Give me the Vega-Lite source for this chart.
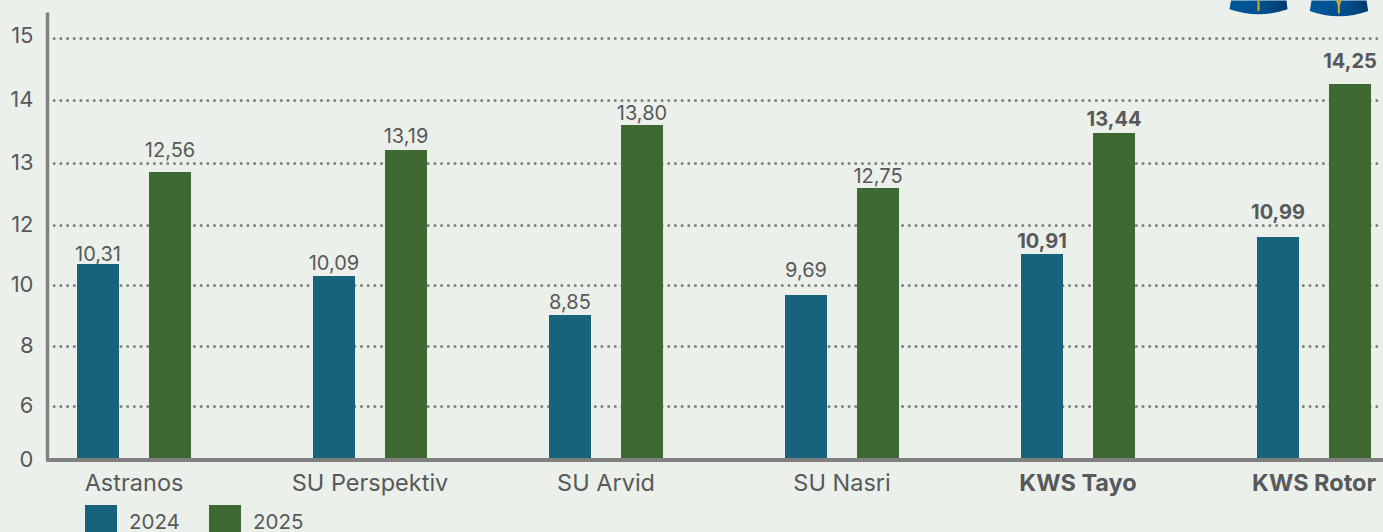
{
"$schema":"https://vega.github.io/schema/vega-lite/v6.json",
"width":1336,"height":448,
"autosize":{"type":"none"},
"padding":{"left":47,"top":12,"right":0,"bottom":72},
"background":"#ebf0ea",
"config":{"view":{"stroke":null},"font":"Inter"},
"datasets":{"bars":[
{"variety":"Astranos","year":"2024","value":"10,31","bar_top":10.7,"label_pos":11.03,"strong":false},
{"variety":"Astranos","year":"2025","value":"12,56","bar_top":12.855,"label_pos":13.2,"strong":false},
{"variety":"SU Perspektiv","year":"2024","value":"10,09","bar_top":10.3,"label_pos":10.73,"strong":false},
{"variety":"SU Perspektiv","year":"2025","value":"13,19","bar_top":13.206,"label_pos":13.43,"strong":false},
{"variety":"SU Arvid","year":"2024","value":"8,85","bar_top":9.016,"label_pos":9.44,"strong":false},
{"variety":"SU Arvid","year":"2025","value":"13,80","bar_top":13.603,"label_pos":13.79,"strong":false},
{"variety":"SU Nasri","year":"2024","value":"9,69","bar_top":9.672,"label_pos":10.5,"strong":false},
{"variety":"SU Nasri","year":"2025","value":"12,75","bar_top":12.597,"label_pos":12.79,"strong":false},
{"variety":"KWS Tayo","year":"2024","value":"10,91","bar_top":11.033,"label_pos":11.47,"strong":true},
{"variety":"KWS Tayo","year":"2025","value":"13,44","bar_top":13.476,"label_pos":13.7,"strong":true},
{"variety":"KWS Rotor","year":"2024","value":"10,99","bar_top":11.6,"label_pos":12.21,"strong":true},
{"variety":"KWS Rotor","year":"2025","value":"14,25","bar_top":14.258,"label_pos":14.63,"strong":true}
],"icon":[{"variety":"KWS Rotor","top":15.4}]},
"data":{"name":"bars"},
"encoding":{
"x":{"field":"variety","type":"nominal","sort":null,"title":null,
"scale":{"range":[0,1336],"paddingInner":0.5,"paddingOuter":0.0805,"align":0.737},
"axis":{"domain":false,"ticks":false,"grid":false,"labelAngle":0,"labelFont":"Inter","labelFontSize":23.5,"labelColor":"#58595b","labelPadding":11,"labelBound":false,"labelFlush":false,
"labelFontWeight":{"condition":{"test":"indexof(datum.label,'KWS')==0","value":"bold"},"value":"normal"}}}
},
"layer":[
{"mark":{"type":"bar","width":42},
"encoding":{
"xOffset":{"field":"year","type":"nominal","scale":{"paddingInner":0.4167,"paddingOuter":0.0278}},
"y":{"field":"bar_top","type":"quantitative","title":null,
"scale":{"domain":[0,6,8,10,12,13,14,15,15.4],"range":[448,394,334,273,213,151,88,26,0]},
"axis":{"values":[0,6,8,10,12,13,14,15],"domain":true,"domainColor":"#808080","domainWidth":3.4,"ticks":false,"grid":true,"gridColor":"#808080","gridWidth":3,"gridCap":"round","gridDash":[0.01,6.67],"labelFont":"Inter","labelFontSize":22,"labelColor":"#58595b","labelPadding":14,"labelBound":false,"labelFlush":false,
"labelOffset":{"condition":{"test":"datum.value==15","value":-3},"value":-1}}},
"color":{"field":"year","type":"nominal","scale":{"domain":["2024","2025"],"range":["#17637c","#3f6932"]},
"legend":{"title":null,"orient":"none","direction":"horizontal","legendX":38,"legendY":495,"symbolType":"M-1,-1.125 H1 V0.875 H-1 Z","symbolSize":1024,"symbolStrokeWidth":0,"symbolOpacity":1,"labelFont":"Inter","labelFontSize":20.5,"labelColor":"#58595b","labelOffset":12,"columnPadding":29}}
}},
{"mark":{"type":"rule","color":"#808080","strokeWidth":3.4},"encoding":{"x":{"value":0},"x2":{"value":1336},"y":{"datum":0,"type":"quantitative"}}},
{"transform":[{"filter":"!datum.strong"}],"mark":{"type":"text","font":"Inter","fontSize":20,"color":"#58595b","baseline":"middle","dy":1},
"encoding":{"xOffset":{"field":"year","type":"nominal"},"y":{"field":"label_pos","type":"quantitative"},"text":{"field":"value","type":"nominal"}}},
{"transform":[{"filter":"datum.strong"}],"mark":{"type":"text","font":"Inter","fontSize":20,"fontWeight":"bold","color":"#58595b","baseline":"middle","dy":1},
"encoding":{"xOffset":{"field":"year","type":"nominal"},"y":{"field":"label_pos","type":"quantitative"},"text":{"field":"value","type":"nominal"}}},
{"data":{"name":"icon"},"mark":{"type":"point","filled":true,"size":4,"opacity":1,"clip":false,"shape":"M-83,-27 L-84.5,-18.3 Q-55.5,-8.3 -26.5,-18.3 L-27.5,-27 Z","fill":{"gradient":"linear","x1":0,"x2":1,"y1":0,"y2":0,"stops":[{"offset":0,"color":"#00589a"},{"offset":0.6,"color":"#004f8e"},{"offset":1,"color":"#003a6e"}]}},"encoding":{"y":{"field":"top","type":"quantitative"}}},
{"data":{"name":"icon"},"mark":{"type":"point","filled":true,"size":4,"opacity":1,"clip":false,"shape":"M-2.5,-27 L-4.2,-16.7 Q25,-5.9 54.2,-16.7 L52.5,-27 Z","fill":{"gradient":"linear","x1":0,"x2":1,"y1":0,"y2":0,"stops":[{"offset":0,"color":"#00589a"},{"offset":0.6,"color":"#004f8e"},{"offset":1,"color":"#003a6e"}]}},"encoding":{"y":{"field":"top","type":"quantitative"}}},
{"data":{"name":"icon"},"mark":{"type":"point","filled":true,"size":4,"opacity":1,"clip":false,"fill":"#c9ab2e","shape":"M-56.5,-27 L-54.5,-27 L-54.5,-16.5 L-56.5,-16.5 Z M22,-27 L27.5,-27 L25.8,-22 L25.8,-14 L23.8,-14 L23.8,-22 Z"},"encoding":{"y":{"field":"top","type":"quantitative"}}}
]
}
